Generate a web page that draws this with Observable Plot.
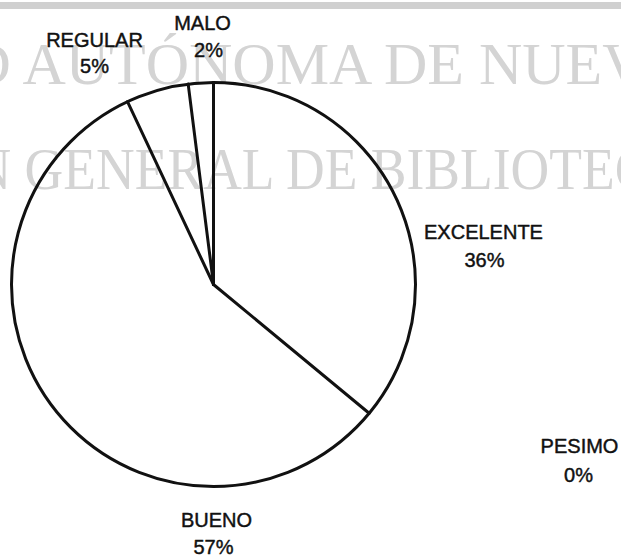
<!DOCTYPE html>
<html>
<head>
<meta charset="utf-8">
<script src="https://cdn.jsdelivr.net/npm/d3@7"></script>
<script src="https://cdn.jsdelivr.net/npm/@observablehq/plot@0.6"></script>
<style>
  html, body { margin: 0; padding: 0; background: #fff; }
  #wrap { position: relative; width: 621px; height: 556px; overflow: hidden; }
  #bar { position: absolute; left: 0; top: 2px; width: 621px; height: 7px; background: #d0d0d0; }
  #chart { position: absolute; left: 0; top: 0; }
</style>
</head>
<body>
<div id="wrap"><div id="chart"></div><div id="bar"></div></div>
<script>
// ---- data ----
const categories = ["EXCELENTE", "BUENO", "REGULAR", "MALO", "PESIMO"];
const percents = [36, 57, 5, 2, 0];
const watermarkLines = ["D AUTÓNOMA DE NUEV", "N GENERAL DE BIBLIOTEC"];

// ---- layout (pixels) ----
const W = 621, H = 556;
const cx = 213, cy = 284, R = 202;
const labelLayout = {
  EXCELENTE: {name: [483, 232], pct: [484, 260]},
  BUENO:     {name: [216, 520], pct: [213, 547]},
  REGULAR:   {name: [94, 40],   pct: [94, 66]},
  MALO:      {name: [202, 23],  pct: [208, 50]},
  PESIMO:    {name: [579, 446], pct: [578, 475]}
};
const watermarkLayout = [
  {x: -33, y: 83, len: 678, size: 60},
  {x: -28, y: 188, len: 678, size: 60}
];
const px2x = px => (px - cx) / R;
const px2y = py => (cy - py) / R;

// ---- derived ----
const slices = categories.map((c, i) => ({category: c, percent: percents[i]}));
const cum = [0, ...d3.cumsum(percents)];
const boundaries = cum.slice(0, -1).map(v => ({angle: v / 100 * 2 * Math.PI}));
const wm = watermarkLines.map((t, i) => ({text: t, ...watermarkLayout[i]}));

const labelStyle = {
  fontSize: 20, fontFamily: "Liberation Sans, Arial, sans-serif",
  fill: "#111", stroke: "#111", strokeWidth: 0.45, lineAnchor: "middle"
};

const plot = Plot.plot({
  width: W,
  height: H,
  marginLeft: cx - R,
  marginRight: W - cx - R,
  marginTop: cy - R,
  marginBottom: H - cy - R,
  x: {domain: [-1, 1], axis: null},
  y: {domain: [-1, 1], axis: null},
  style: {background: "transparent"},
  marks: [
    Plot.text(wm, {
      x: d => px2x(d.x), y: d => px2y(d.y), text: "text",
      textAnchor: "start", lineAnchor: "bottom",
      fontSize: 60, fontFamily: "Liberation Serif, Times New Roman, serif",
      fill: "#d4d4d4"
    }),
    Plot.dot([null], {
      x: () => 0, y: () => 0, r: R,
      fill: "none", stroke: "#111", strokeWidth: 3
    }),
    Plot.link(boundaries, {
      x1: () => 0, y1: () => 0,
      x2: d => Math.sin(d.angle), y2: d => Math.cos(d.angle),
      stroke: "#111", strokeWidth: 3, strokeLinecap: "round"
    }),
    Plot.text(slices, {
      x: d => px2x(labelLayout[d.category].name[0]),
      y: d => px2y(labelLayout[d.category].name[1]),
      text: "category",
      ...labelStyle
    }),
    Plot.text(slices, {
      x: d => px2x(labelLayout[d.category].pct[0]),
      y: d => px2y(labelLayout[d.category].pct[1]),
      text: d => d.percent + "%",
      ...labelStyle
    })
  ]
});

// fit watermark lines to their measured widths
plot.querySelectorAll("text").forEach(t => {
  const i = watermarkLines.indexOf(t.textContent);
  if (i >= 0) {
    t.setAttribute("font-size", watermarkLayout[i].size);
    t.setAttribute("textLength", watermarkLayout[i].len);
    t.setAttribute("lengthAdjust", "spacingAndGlyphs");
  }
});

document.getElementById("chart").appendChild(plot);
</script>
</body>
</html>
